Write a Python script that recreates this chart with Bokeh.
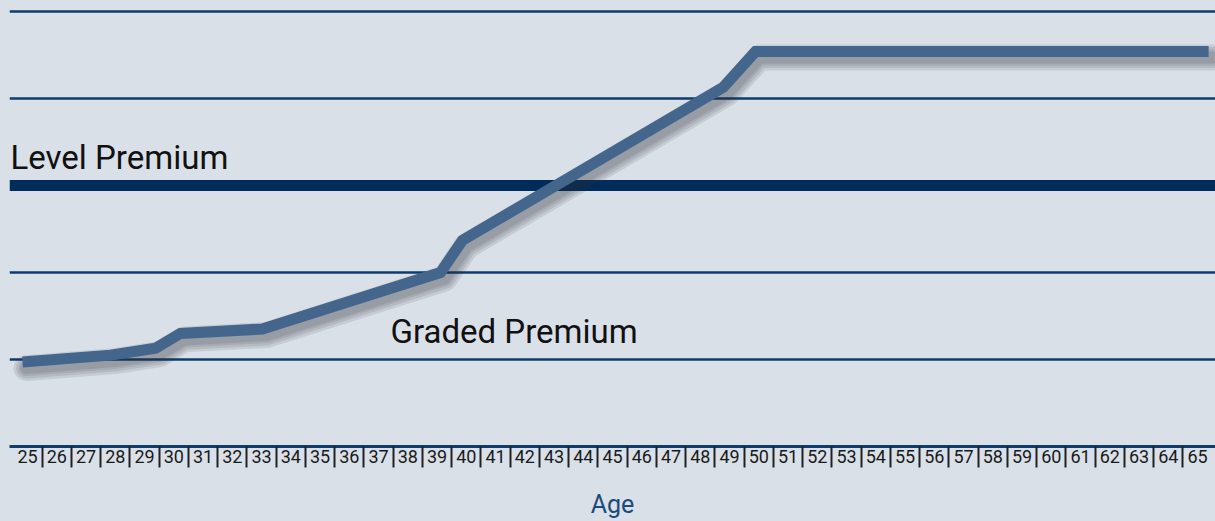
from bokeh.plotting import figure
from bokeh.models import (Range1d, FixedTicker, Grid, Span, Label,
                          GlobalInlineStyleSheet)
from bokeh.embed import file_html
from bokeh.resources import INLINE

# ---- data -------------------------------------------------------------
ages = [24.83, 27.84, 29.38, 30.23, 33.03, 39.12, 39.87, 48.79, 49.89, 65.38]
graded_premium = [0.97, 1.05, 1.13, 1.30, 1.35, 2.00, 2.37, 4.13, 4.54, 4.54]
level_premium = 3.0
grid_levels = [1, 2, 4, 5]
tick_ages = list(range(25, 66))
separators = [a + 0.5 for a in range(25, 65)]

# ---- style ------------------------------------------------------------
BG = "#d9e0e8"
NAVY = "#0f3c6c"
LEVEL = "#002c5c"
LINE = "#44668d"
FONT = "Roboto"

X0, X1 = 24.3846, 65.615
Y0, Y1 = 0.0, 5.126

p = figure(frame_width=1206, frame_height=446, output_backend="svg",
           toolbar_location=None, x_range=Range1d(X0, X1),
           y_range=Range1d(Y0, Y1), y_axis_location=None,
           min_border_left=9, min_border_right=0, min_border_top=0,
           min_border_bottom=75)
p.stylesheets = [GlobalInlineStyleSheet(
    css=f"html, body {{ margin: 0; padding: 0; background: {BG}; }}")]
p.background_fill_color = BG
p.border_fill_color = BG
p.outline_line_color = None
p.xgrid.visible = False

grid = Grid(dimension=1, ticker=FixedTicker(ticks=grid_levels),
            grid_line_color=NAVY, grid_line_width=2.5, level="underlay")
p.add_layout(grid, "center")

p.add_layout(Span(location=level_premium, dimension="width",
                  line_color=LEVEL, line_width=11, level="underlay"))

# shadow of the graded line, drawn through slightly shifted ranges
dx = 4 / 29.25
dy = 6 / 87
p.extra_x_ranges = {"sh": Range1d(X0 - dx, X1 - dx)}
p.extra_y_ranges = {"sh": Range1d(Y0 + dy, Y1 + dy)}
for w in (26, 21, 16, 12):
    p.line(ages, graded_premium, x_range_name="sh", y_range_name="sh",
           line_color="#2a2f36", line_alpha=0.11, line_width=w,
           line_join="round", line_cap="round")

p.line(ages, graded_premium, line_color=LINE, line_width=11,
       line_join="miter", line_cap="butt")

p.add_layout(Label(x=1, x_units="screen", y=level_premium, y_offset=28,
                   text="Level Premium", text_font=FONT,
                   text_font_size="33px", text_color="#111111",
                   text_baseline="alphabetic"))
p.add_layout(Label(x=381, x_units="screen", y=grid_levels[0], y_offset=28,
                   text="Graded Premium", text_font=FONT,
                   text_font_size="33px", text_color="#111111",
                   text_baseline="alphabetic"))

ax = p.xaxis[0]
ax.ticker = FixedTicker(ticks=tick_ages, minor_ticks=separators)
ax.axis_line_color = NAVY
ax.axis_line_width = 3
ax.major_tick_line_color = None
ax.major_tick_out = 0
ax.major_tick_in = 0
ax.minor_tick_line_color = "#222222"
ax.minor_tick_line_width = 2
ax.minor_tick_out = 0
ax.minor_tick_in = -21
ax.major_label_text_font = FONT
ax.major_label_text_font_size = "18px"
ax.major_label_text_color = "#1a1a1a"
ax.major_label_standoff = 3
ax.axis_label = "Age"
ax.axis_label_text_font = FONT
ax.axis_label_text_font_style = "normal"
ax.axis_label_text_font_size = "25px"
ax.axis_label_text_color = "#1d4a7c"
ax.axis_label_standoff = 24

open("out.html", "w").write(file_html(p, INLINE))
